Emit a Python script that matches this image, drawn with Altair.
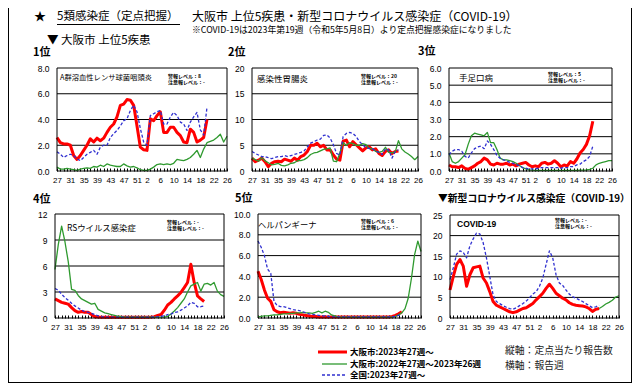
import json
import altair as alt
import pandas as pd

W, H = 624, 375
FONT_JP = "Noto Sans CJK JP"
FONT_NUM = "Liberation Sans"
RED, GREEN, BLUE = "#ff0000", "#2f9a2f", "#3030d0"

# ---------------- data ----------------
week_numbers = list(range(27, 53)) + list(range(1, 27))      # x index 0..51
x_tick_idx = [0, 4, 8, 12, 16, 20, 24, 27, 31, 35, 39, 43, 47, 51]
series_names = ["大阪市:2023年27週～", "大阪市:2022年27週～2023年26週", "全国:2023年27週～"]

p1_red = [2.6, 2.2, 2.1, 2.1, 2.0, 1.2, 0.9, 1.2, 1.6, 2.0, 2.5, 2.25, 2.55, 2.35, 2.55, 3.0, 3.4, 3.65, 4.2, 5.1,
          5.2, 5.55, 5.5, 5.1, 3.5, 1.85, 1.65, 1.6, 4.05, 3.9, 4.3, 4.6, 3.0, 3.0, 3.4, 3.4, 3.0, 2.75, 2.25, 2.2,
          3.25, 3.0, 2.25, 2.4, 2.6, 4.0]
p1_green = [0.3, 0.15, 0.15, 0.2, 0.15, 0.1, 0.05, 0.15, 0.2, 0.25, 0.2, 0.35, 0.3, 0.45, 0.35, 0.55, 0.45, 0.4, 0.35,
            0.35, 0.55, 0.4, 0.3, 0.35, 0.25, 0.1, 0.05, 0.05, 0.15, 0.3, 0.5, 0.55, 0.5, 0.55, 0.5, 0.6, 0.9, 0.85,
            0.8, 0.9, 1.05, 1.3, 1.6, 1.05, 1.7, 2.2, 2.3, 2.4, 2.6, 2.85, 2.25, 2.7]
p1_blue = [1.5, 1.3, 1.05, 1.2, 1.3, 1.2, 0.95, 0.8, 1.05, 1.3, 1.45, 1.6, 1.3, 1.85, 2.0, 2.0, 2.6, 2.9, 3.15, 3.5,
           3.9, 4.05, 4.7, 5.1, 4.6, 3.3, 2.25, 2.0, 4.3, 4.45, 4.6, 4.7, 3.65, 3.65, 4.2, 4.55, 4.3, 3.8, 3.65, 3.15,
           3.8, 4.2, 4.55, 3.2, 2.8, 4.95]

p2_red = [2.5, 1.8, 2.1, 2.5, 1.8, 0.85, 1.5, 1.8, 1.9, 1.8, 2.3, 2.1, 1.9, 2.5, 2.1, 2.8, 3.1, 3.8, 5.0, 5.0, 5.4,
          4.7, 5.0, 4.1, 4.1, 3.1, 2.3, 2.1, 5.8, 6.0, 4.7, 5.7, 5.1, 4.5, 3.9, 4.5, 4.7, 4.1, 4.3, 3.4, 3.0, 3.8,
          4.1, 3.4, 3.8, 3.9]
p2_green = [2.5, 2.2, 1.9, 2.6, 2.0, 1.6, 1.2, 1.3, 1.5, 1.1, 1.0, 1.2, 1.5, 1.6, 2.0, 2.0, 2.2, 2.6, 3.2, 3.5, 3.6,
            3.9, 4.2, 4.3, 4.5, 1.9, 1.8, 3.5, 5.5, 5.0, 5.5, 5.3, 5.0, 5.0, 5.3, 5.1, 4.4, 4.3, 3.8, 3.6, 3.8, 4.6,
            3.6, 3.5, 3.7, 5.9, 4.3, 3.7, 3.3, 2.8, 2.2, 2.8]
p2_blue = [3.8, 3.4, 3.1, 2.8, 2.8, 2.6, 2.4, 2.6, 2.8, 2.8, 3.0, 2.8, 3.0, 3.2, 3.4, 3.6, 3.9, 4.7, 5.4, 5.7, 6.0,
           6.2, 6.9, 7.0, 6.4, 5.1, 3.4, 3.1, 6.7, 7.3, 7.5, 7.3, 6.7, 5.7, 5.1, 4.5, 4.4, 4.3, 3.9, 3.6, 3.2, 4.3,
           4.1, 2.5, 3.8, 4.1]

p3_red = [0.35, 0.25, 0.25, 0.2, 0.3, 0.15, 0.1, 0.2, 0.3, 0.45, 0.55, 0.75, 0.65, 0.4, 0.35, 0.45, 0.4, 0.4, 0.45,
          0.35, 0.4, 0.3, 0.4, 0.45, 0.5, 0.35, 0.25, 0.3, 0.25, 0.45, 0.5, 0.4, 0.45, 0.6, 0.45, 0.25, 0.35, 0.3,
          0.55, 0.45, 0.7, 1.05, 1.25, 1.55, 2.05, 2.9]
p3_green = [1.05, 0.55, 0.45, 0.55, 0.75, 0.95, 1.55, 2.05, 2.2, 2.15, 2.1, 2.05, 2.25, 1.65, 1.65, 1.25, 0.75, 0.65,
            0.65, 0.6, 0.55, 0.45, 0.32, 0.2, 0.12, 0.06, 0.05, 0.04, 0.04, 0.04, 0.04, 0.04, 0.04, 0.04, 0.04, 0.04,
            0.04, 0.04, 0.04, 0.04, 0.04, 0.05, 0.05, 0.06, 0.1, 0.16, 0.36, 0.45, 0.5, 0.55, 0.6, 0.6]
p3_blue = [0.95, 1.15, 1.25, 1.25, 1.15, 0.85, 0.75, 1.05, 1.3, 1.4, 1.45, 1.3, 1.75, 1.55, 1.25, 0.9, 0.75, 0.65,
           0.6, 0.5, 0.45, 0.36, 0.32, 0.2, 0.16, 0.12, 0.12, 0.12, 0.16, 0.2, 0.2, 0.2, 0.2, 0.2, 0.2, 0.16, 0.2,
           0.2, 0.26, 0.26, 0.36, 0.4, 0.55, 0.65, 0.85, 1.45]

p4_red = [2.2, 2.0, 1.8, 1.7, 1.6, 1.2, 0.85, 0.65, 0.75, 0.65, 0.65, 0.4, 0.15, 0.12, 0.1, 0.1, 0.08, 0.08, 0.08,
          0.08, 0.08, 0.08, 0.08, 0.08, 0.08, 0.08, 0.08, 0.1, 0.1, 0.12, 0.15, 0.3, 0.4, 0.9, 1.5, 1.8, 2.2, 2.55,
          2.95, 3.5, 4.1, 6.2, 4.1, 2.55, 2.2, 1.9]
p4_green = [5.6, 8.5, 10.6, 8.8, 6.5, 3.3, 3.2, 2.6, 2.2, 2.0, 1.8, 1.6, 1.7, 1.0, 0.8, 0.6, 0.5, 0.4, 0.3, 0.2, 0.15,
            0.1, 0.1, 0.1, 0.1, 0.1, 0.1, 0.1, 0.1, 0.1, 0.1, 0.1, 0.1, 0.1, 0.2, 0.45, 0.8, 1.2, 1.7, 2.2, 3.0, 3.7,
            3.9, 4.1, 3.1, 3.9, 4.0, 3.8, 4.1, 3.1, 2.7, 2.5]
p4_blue = [3.4, 3.2, 2.75, 2.35, 2.05, 1.7, 1.4, 1.15, 0.9, 0.75, 0.65, 0.55, 0.4, 0.25, 0.15, 0.12, 0.1, 0.1, 0.1,
           0.1, 0.1, 0.1, 0.1, 0.1, 0.1, 0.1, 0.1, 0.1, 0.1, 0.1, 0.12, 0.15, 0.2, 0.25, 0.4, 0.45, 0.65, 0.7, 0.9,
           1.15, 1.4, 1.8, 1.7, 1.3, 1.3, 1.4]

p5_red = [4.5, 3.7, 2.7, 1.9, 1.6, 0.8, 0.6, 0.5, 0.55, 0.5, 0.45, 0.5, 0.45, 0.35, 0.3, 0.25, 0.2, 0.15, 0.15, 0.1,
          0.1, 0.1, 0.1, 0.1, 0.1, 0.1, 0.1, 0.1, 0.1, 0.1, 0.1, 0.1, 0.1, 0.1, 0.1, 0.1, 0.1, 0.1, 0.1, 0.1, 0.1,
          0.1, 0.15, 0.25, 0.4, 0.6]
p5_green = [0.1, 0.15, 0.2, 0.2, 0.25, 0.3, 0.3, 0.35, 0.4, 0.4, 0.45, 0.45, 0.5, 0.5, 0.55, 0.5, 0.5, 0.45, 0.55,
            0.65, 0.5, 0.65, 0.55, 0.3, 0.2, 0.1, 0.08, 0.08, 0.08, 0.08, 0.08, 0.08, 0.08, 0.08, 0.08, 0.08, 0.08,
            0.08, 0.08, 0.08, 0.08, 0.08, 0.08, 0.15, 0.3, 0.5, 0.9, 1.9, 3.8, 6.1, 7.4, 6.4]
p5_blue = [7.4, 6.8, 6.0, 4.7, 4.3, 1.6, 1.2, 1.1, 1.1, 1.0, 0.9, 0.8, 0.75, 0.7, 0.6, 0.5, 0.4, 0.35, 0.3, 0.25,
           0.2, 0.2, 0.15, 0.1, 0.1, 0.1, 0.1, 0.1, 0.1, 0.1, 0.1, 0.1, 0.1, 0.1, 0.1, 0.1, 0.1, 0.1, 0.1, 0.1, 0.1,
           0.1, 0.1, 0.15, 0.25, 0.35]

p6_red = [6.8, 10.1, 13.0, 14.2, 12.6, 7.7, 10.5, 12.2, 12.4, 12.6, 9.7, 8.5, 6.4, 4.0, 3.1, 2.7, 2.3, 1.9, 1.5,
          1.3, 1.5, 1.9, 2.3, 2.5, 3.0, 3.5, 4.4, 5.2, 6.0, 7.2, 8.2, 7.2, 6.0, 5.4, 4.8, 4.4, 3.7, 3.3, 3.1, 3.0,
          2.9, 2.7, 2.3, 1.6, 2.1, 2.3]
p6_green = [None] * 45 + [2.3, 2.8, 3.4, 3.8, 4.3, 5.1, 5.4]
p6_blue = [9.3, 12.2, 15.5, 16.3, 15.9, 14.6, 17.5, 19.2, 20.6, 20.4, 18.3, 14.6, 10.1, 5.6, 4.0, 3.5, 3.0, 2.6,
           2.3, 2.1, 2.5, 3.0, 3.5, 4.1, 4.9, 5.8, 6.4, 7.7, 9.7, 13.0, 16.3, 14.6, 10.5, 8.5, 7.9, 6.8, 5.8, 5.2,
           4.8, 4.4, 4.0, 3.5, 3.0, 2.5, 2.7, 3.1]

disease_names = ["A群溶血性レンサ球菌咽頭炎", "感染性胃腸炎", "手足口病", "RSウイルス感染症", "ヘルパンギーナ", "COVID-19"]
rank_labels = ["1位", "2位", "3位", "4位", "5位", "▼新型コロナウイルス感染症（COVID-19）"]
alarm_levels = ["8", "20", "5", "-", "6", "-"]
caution_levels = ["-", "-", "-", "-", "-", "-"]
y_max = [8, 20, 6, 12, 10, 25]
y_step = [2, 5, 1, 3, 2, 5]
y_fmt = [".1f", "d", ".1f", "d", ".1f", "d"]

# ---------------- layout (plot rectangles, chart pixels) ----------------
boxes = [
    dict(x0=49, x1=219, y0=60, y1=163),
    dict(x0=244, x1=410, y0=60, y1=163),
    dict(x0=441, x1=604, y0=60, y1=163),
    dict(x0=47, x1=216, y0=206, y1=310),
    dict(x0=250, x1=413, y0=206, y1=310),
    dict(x0=442, x1=611, y0=207, y1=310),
]
name_pos = [(52, 69.5, 7.3), (249, 70.5, 8.5), (451, 69.5, 8.5), (59, 220, 8.4), (250, 218, 8.3), (449, 216, 8.5)]
alarm_pos = [(160, 66), (353, 66), (540, 64), (159, 212), (353, 211), (547, 210)]
rank_pos = [(25, 45, 11), (220, 45, 11), (410, 44, 11), (25, 192, 11), (227, 191, 11), (430, 191, 9.8)]

reds = [p1_red, p2_red, p3_red, p4_red, p5_red, p6_red]
greens = [p1_green, p2_green, p3_green, p4_green, p5_green, p6_green]
blues = [p1_blue, p2_blue, p3_blue, p4_blue, p5_blue, p6_blue]

label_expr = json.dumps([str(w) for w in week_numbers]) + "[datum.value]"


def text_layer(s, x, y, size, weight="normal", align="left", baseline="middle", font=FONT_JP, color="black", **kw):
    return alt.Chart(pd.DataFrame({"t": [s]})).mark_text(
        align=align, baseline=baseline, font=font, fontSize=size, fontWeight=weight, color=color, **kw
    ).encode(x=alt.value(x), y=alt.value(y), text="t:N")


def panel_layers(k):
    b = boxes[k]
    xsc = alt.Scale(domain=[0, 51], range=[b["x0"], b["x1"]], nice=False, zero=False)
    ysc = alt.Scale(domain=[0, y_max[k]], range=[b["y1"], b["y0"]], nice=False, zero=False)
    n = int(round(y_max[k] / y_step[k]))
    yticks = [y_step[k] * j for j in range(n + 1)]
    layers = []

    grid_df = pd.DataFrame({"v": yticks[1:-1], "a": 0, "b": 51})
    layers.append(alt.Chart(grid_df).mark_rule(color="black", strokeWidth=1).encode(
        x=alt.X("a:Q", scale=xsc, axis=None),
        x2="b:Q",
        y=alt.Y("v:Q", scale=ysc, axis=alt.Axis(
            orient="left", offset=-b["x0"], values=yticks, format=y_fmt[k], domain=False, ticks=False,
            tickSize=0, grid=False, labelPadding=8, labelFont=FONT_NUM, labelFontSize=8.5,
            labelColor="black", title=None)),
    ))

    def line(vals, color, width, dash=None, axis=None):
        df = pd.DataFrame({"i": list(range(len(vals))), "v": vals}).dropna()
        kw = dict(color=color, strokeWidth=width, strokeJoin="round")
        if dash:
            kw["strokeDash"] = dash
        return alt.Chart(df).mark_line(**kw).encode(
            x=alt.X("i:Q", scale=xsc, axis=axis),
            y=alt.Y("v:Q", scale=ysc, axis=None),
        )

    minor_axis = alt.Axis(orient="top", offset=-b["y1"], values=list(range(52)), labels=False, domain=False,
                          ticks=True, tickSize=3, tickColor="black", tickWidth=1, grid=False, title=None)
    layers.append(line(reds[k], RED, 3, axis=minor_axis))
    layers.append(line(greens[k], GREEN, 1.3))
    layers.append(line(blues[k], BLUE, 1.3, dash=[3, 2]))

    frame_df = pd.DataFrame({"a": [0], "b": [51], "c": [0], "d": [y_max[k]]})
    layers.append(alt.Chart(frame_df).mark_rect(filled=False, stroke="black", strokeWidth=1).encode(
        x=alt.X("a:Q", scale=xsc, axis=alt.Axis(
            orient="bottom", offset=b["y1"] - H, values=x_tick_idx, labelExpr=label_expr, domain=False,
            ticks=False, tickSize=0, grid=False, labelPadding=5, labelFlush=False, labelOverlap=False,
            labelFont=FONT_NUM, labelFontSize=8, labelColor="black", title=None)),
        x2="b:Q",
        y=alt.Y("c:Q", scale=ysc, axis=None),
        y2="d:Q",
    ))

    nx, ny, ns = name_pos[k]
    weight = "bold" if k == 5 else "normal"
    layers.append(text_layer(disease_names[k], nx, ny, ns, weight=weight,
                             font=FONT_NUM if k == 5 else FONT_JP))
    ax, ay = alarm_pos[k]
    layers.append(text_layer(f"警報レベル：{alarm_levels[k]}", ax, ay, 5.0, weight="bold", baseline="top"))
    layers.append(text_layer(f"注意報レベル：{caution_levels[k]}", ax, ay + 6.3, 5.0, weight="bold", baseline="top"))
    rx, ry, rs = rank_pos[k]
    layers.append(text_layer(rank_labels[k], rx, ry, rs, weight="bold"))
    return layers


layers = []
# outer frame (left, right, bottom)
fdf = pd.DataFrame({"a": [0]})
layers.append(alt.Chart(fdf).mark_rule(color="black", strokeWidth=1).encode(
    x=alt.value(0.5), y=alt.value(0), y2=alt.value(375)))
layers.append(alt.Chart(fdf).mark_rule(color="black", strokeWidth=1).encode(
    x=alt.value(623.5), y=alt.value(0), y2=alt.value(375)))
layers.append(alt.Chart(fdf).mark_rule(color="black", strokeWidth=1).encode(
    x=alt.value(0), x2=alt.value(624), y=alt.value(374.5)))

# header
layers.append(text_layer("★", 32, 9, 12, align="center"))
layers.append(text_layer("5類感染症（定点把握）", 49, 9, 11.5))
layers.append(alt.Chart(fdf).mark_rule(color="black", strokeWidth=1).encode(
    x=alt.value(49), x2=alt.value(172), y=alt.value(16.5)))
layers.append(text_layer("大阪市 上位5疾患・新型コロナウイルス感染症（COVID-19）", 184, 9, 12))
layers.append(text_layer("※COVID-19は2023年第19週（令和5年5月8日）より定点把握感染症になりました", 184, 22, 8.8))
layers.append(text_layer("▼ 大阪市 上位5疾患", 39, 32.5, 11.5))

for k in range(6):
    layers.extend(panel_layers(k))

# legend
leg_colors = [RED, GREEN, BLUE]
leg_widths = [3, 1.3, 1.3]
leg_y = [344, 356, 367]
leg_x0 = [310, 314, 314]
for j in range(3):
    kw = dict(color=leg_colors[j], strokeWidth=leg_widths[j])
    if j == 2:
        kw["strokeDash"] = [3, 2]
    layers.append(alt.Chart(fdf).mark_rule(**kw).encode(
        x=alt.value(leg_x0[j]), x2=alt.value(339), y=alt.value(leg_y[j])))
    layers.append(text_layer(series_names[j], 342, leg_y[j], 8.5, weight="bold"))

layers.append(text_layer("縦軸：定点当たり報告数", 497, 343, 9.8, color="#222222"))
layers.append(text_layer("横軸：報告週", 497, 358, 9.8, color="#222222"))

chart = alt.layer(*layers).resolve_scale(
    x="independent", y="independent"
).properties(
    width=W, height=H, padding=0, autosize=alt.AutoSizeParams(type="none"), background="white"
).configure_view(stroke=None)

chart.save("out.html", embed_options={"renderer": "svg", "actions": False})
